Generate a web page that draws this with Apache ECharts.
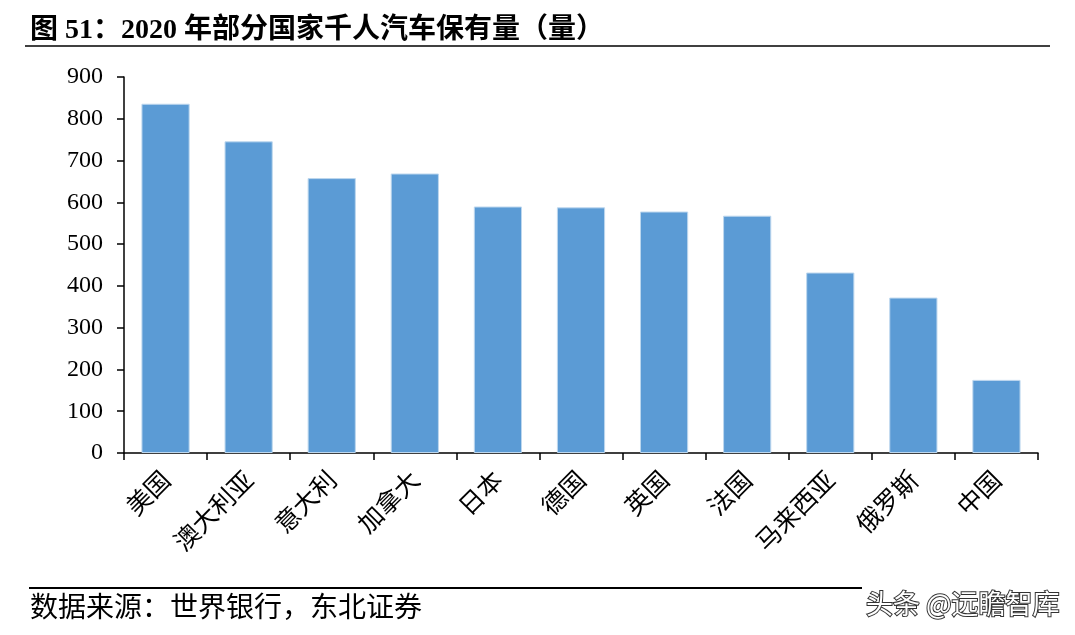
<!DOCTYPE html>
<html><head><meta charset="utf-8">
<script src="https://cdn.jsdelivr.net/npm/echarts@6/dist/echarts.min.js"></script>
<style>html,body{margin:0;padding:0;background:#fff}#c{width:1075px;height:635px}</style>
</head><body><div id="c"></div>
<script>
const categories = ['美国','澳大利亚','意大利','加拿大','日本','德国','英国','法国','马来西亚','俄罗斯','中国'];
const values = [836, 746, 658, 669, 590, 588, 578, 568, 432, 372, 175];
const yTicks = [0, 100, 200, 300, 400, 500, 600, 700, 800, 900];
const titleText = '图 51：2020 年部分国家千人汽车保有量（量）';
const sourceText = '数据来源：世界银行，东北证券';
const watermark = '头条 @远瞻智库';

const chart = echarts.init(document.getElementById('c'));
chart.setOption({
  animation: false,
  backgroundColor: '#fff',
  grid: {left: 124, top: 77, right: 37, bottom: 182},
  xAxis: {
    type: 'category', data: categories, boundaryGap: true,
    axisLine: {lineStyle: {color: '#000', width: 1.5}},
    axisTick: {show: true, length: 7, lineStyle: {color: '#000', width: 1.5}},
    axisLabel: {rotate: 45, color: '#000', fontSize: 25, margin: 22,
      fontFamily: '"Noto Sans CJK SC", sans-serif'}
  },
  yAxis: {
    type: 'value', min: yTicks[0], max: yTicks[yTicks.length-1], interval: 100,
    axisLine: {show: true, lineStyle: {color: '#000', width: 1.5}},
    axisTick: {show: true, inside: false, length: 7, lineStyle: {color: '#000', width: 1.5}},
    splitLine: {show: false},
    axisLabel: {color: '#000', fontSize: 24, margin: 21, fontFamily: '"Liberation Serif", serif'}
  },
  series: [{
    type: 'bar', data: values, barWidth: '58%',
    itemStyle: {color: '#5B9BD5', borderColor: '#BDD7EE', borderWidth: 1}
  }],
  graphic: [
    {type: 'text', left: 30, top: 17, style: {text: titleText, fontSize: 28, fontWeight: 'bold',
      fontFamily: '"Liberation Serif", "Noto Sans CJK SC", serif', fill: '#000'}},
    {type: 'line', shape: {x1: 25, y1: 46, x2: 1050, y2: 46}, style: {stroke: '#000', lineWidth: 1.5}},
    {type: 'line', shape: {x1: 29, y1: 588, x2: 862, y2: 588}, style: {stroke: '#000', lineWidth: 2}},
    {type: 'text', left: 30, top: 592, style: {text: sourceText, fontSize: 28,
      fontFamily: '"Noto Sans CJK SC", serif', fill: '#000'}},
    {type: 'text', left: 865, top: 589, style: {text: watermark, fontSize: 27,
      fontFamily: '"Noto Sans CJK SC", sans-serif', fill: '#fff', stroke: '#333', lineWidth: 2}}
  ]
});
</script></body></html>
